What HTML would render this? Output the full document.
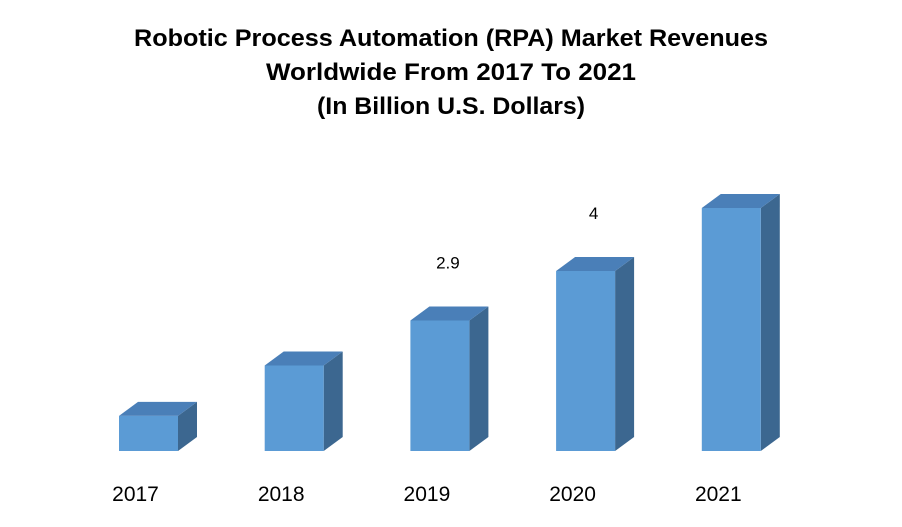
<!DOCTYPE html>
<html><head><meta charset="utf-8"><style>
body{margin:0;background:#fff;}
svg{display:block;font-family:"Liberation Sans",sans-serif;}
</style></head><body>
<svg id="chart" width="902" height="527">
<g font-weight="bold" font-size="24" text-anchor="middle" fill="#000" textLength="635">
<text x="451" y="46" textLength="634" lengthAdjust="spacingAndGlyphs">Robotic Process Automation (RPA) Market Revenues</text>
<text x="451" y="80" textLength="370" lengthAdjust="spacingAndGlyphs">Worldwide From 2017 To 2021</text>
<text x="451" y="114" textLength="268" lengthAdjust="spacingAndGlyphs">(In Billion U.S. Dollars)</text>
</g>
<g id="bars"></g>
<g id="xlabels"></g>
</svg>
<script>
const categories=["2017","2018","2019","2020","2021"];
const values=[0.78,1.9,2.9,4,5.4];
const shownLabels=["","","2.9","4",""];
const base=451, scale=45, x0=119, step=145.7, w=59, dx=19, dy=14;
const ns="http://www.w3.org/2000/svg";
const bars=document.getElementById('bars'), xl=document.getElementById('xlabels');
function mk(t,a){const e=document.createElementNS(ns,t);for(const k in a)e.setAttribute(k,a[k]);return e;}
categories.forEach((c,i)=>{
 const x=x0+i*step, h=values[i]*scale, y=base-h;
 const g=mk('g',{});
 
 
 g.appendChild(mk('polygon',{points:`${x+w},${y} ${x+w+dx},${y-dy} ${x+w+dx},${base-dy} ${x+w},${base}`,fill:'#3c6790'}));
 g.appendChild(mk('polygon',{points:`${x},${y} ${x+dx},${y-dy} ${x+w+dx},${y-dy} ${x+w},${y}`,fill:'#4a7fb8'}));
 g.appendChild(mk('rect',{x:x,y:y,width:w,height:h,fill:'#5b9bd5'}));
 bars.appendChild(g);
 if(shownLabels[i]){
  const t=mk('text',{x:x+w/2+8,y:y-52,'font-size':'17','text-anchor':'middle',fill:'#000'});
  
  
  t.textContent=shownLabels[i];bars.appendChild(t);
 }
 const t=mk('text',{x:x+w/2-13,y:501,'font-size':'21','text-anchor':'middle',fill:'#000'});
 
 
 t.textContent=c;xl.appendChild(t);
});
</script>
</body></html>
